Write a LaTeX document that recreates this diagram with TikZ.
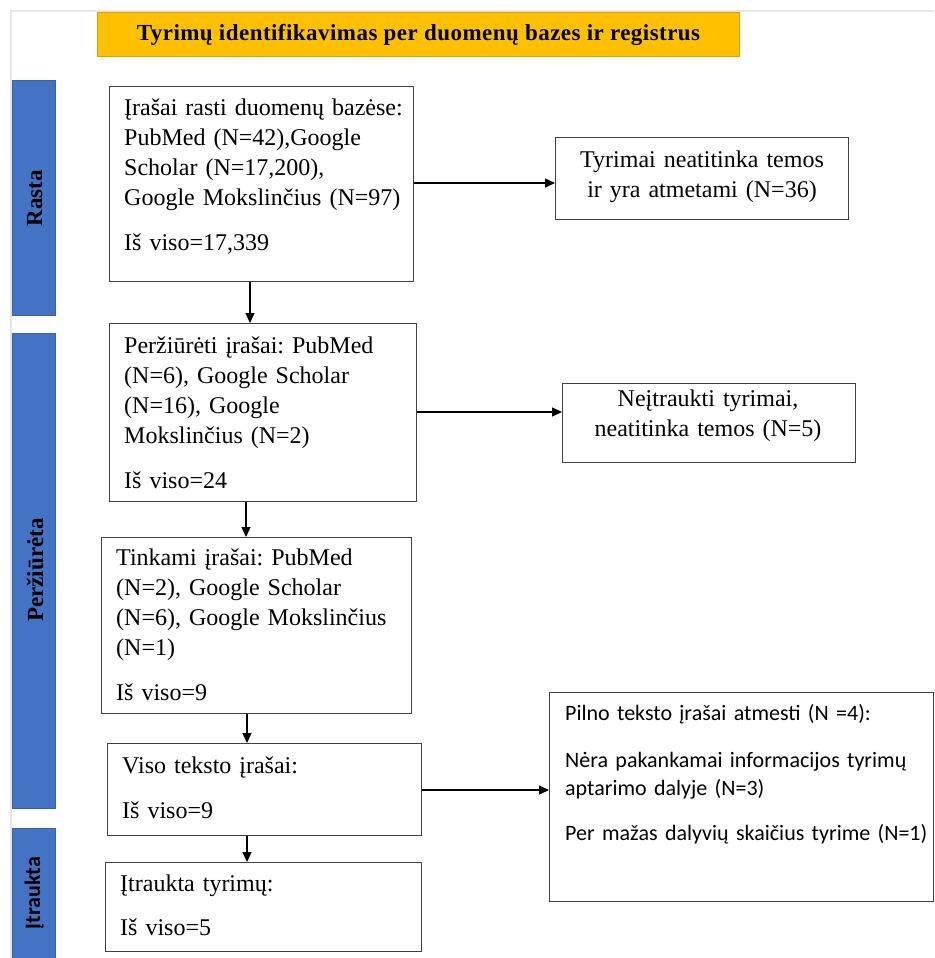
\documentclass[tikz,border=0pt]{standalone}
\usepackage{fontspec}
\setmainfont{Liberation Serif}
\newfontfamily\calibri{Carlito}
\usetikzlibrary{arrows.meta}
\definecolor{gold}{HTML}{FFC000}
\definecolor{goldline}{HTML}{D9A400}
\definecolor{barblue}{HTML}{4472C4}
\definecolor{barline}{HTML}{3A62AA}
\definecolor{boxline}{HTML}{404040}
\definecolor{framegray}{HTML}{E6E6E6}
\frenchspacing
\begin{document}
\frenchspacing
\begin{tikzpicture}[x=1pt,y=-1pt,
  box/.style={draw=boxline, line width=1.3pt, inner sep=0pt, anchor=north west},
  bar/.style={fill=barblue, draw=barline, line width=0.8pt, inner sep=0pt, anchor=north west, minimum width=43pt},
  vlabel/.style={rotate=90, anchor=base, inner sep=0pt, text=black},
  txt/.style={anchor=base west, inner sep=0pt, text width=330pt, align=left, font=\frenchspacing\fontsize{24}{30}\selectfont},
  txtc/.style={anchor=base, inner sep=0pt, text width=290pt, align=center, font=\frenchspacing\fontsize{24}{30}\selectfont},
  txtcal/.style={anchor=base west, inner sep=0pt, text width=365pt, align=left, font=\frenchspacing\calibri\fontsize{22}{28}\selectfont},
  arr/.style={line width=1.3pt, black, -{Triangle[length=10pt,width=9pt]}}
]
\path[use as bounding box] (0,0) rectangle (934,958);
\draw[framegray, line width=1.2pt] (11,958) -- (11,11) -- (934,11);

% title
\node[fill=gold, draw=goldline, line width=1pt, anchor=north west, minimum width=642pt, minimum height=44pt, inner sep=0pt,
      font=\bfseries\addfontfeatures{LetterSpace=2}\fontsize{23}{23}\selectfont] (title) at (97,12)
      {Tyrimų identifikavimas per duomenų bazes ir registrus};

% side bars
\node[bar, minimum height=235pt] (bar1) at (12,80) {};
\node[bar, minimum height=475pt] (bar2) at (12,333) {};
\node[bar, minimum height=140pt] (bar3) at (12,828) {};
\node[vlabel, font=\bfseries\fontsize{23}{23}\selectfont] (lab1) at (42,198) {Rasta};
\node[vlabel, font=\bfseries\fontsize{23}{23}\selectfont] (lab2) at (43,570) {Peržiūrėta};
\node[vlabel, font=\calibri\bfseries\fontsize{22}{22}\selectfont] (lab3) at (40,893) {Įtraukta};

% main boxes
\node[box, minimum width=304pt, minimum height=195pt] (n1) at (109,86) {};
\node[txt] (t1) at (124,115) {Įrašai rasti duomenų bazėse:\\PubMed (N=42),Google\\Scholar (N=17,200),\\Google Mokslinčius (N=97)\\[15pt]Iš viso=17,339};

\node[box, minimum width=307pt, minimum height=178pt] (n2) at (109,323) {};
\node[txt] (t2) at (124,353) {Peržiūrėti įrašai: PubMed\\(N=6), Google Scholar\\(N=16), Google\\Mokslinčius (N=2)\\[15pt]Iš viso=24};

\node[box, minimum width=310pt, minimum height=176pt] (n3) at (101,537) {};
\node[txt] (t3) at (116,565) {Tinkami įrašai: PubMed\\(N=2), Google Scholar\\(N=6), Google Mokslinčius\\(N=1)\\[15pt]Iš viso=9};

\node[box, minimum width=314pt, minimum height=92pt] (n4) at (107,743) {};
\node[txt] (t4) at (122,773) {Viso teksto įrašai:\\[15pt]Iš viso=9};

\node[box, minimum width=316pt, minimum height=89pt] (n5) at (105,862) {};
\node[txt] (t5) at (120,891) {Įtraukta tyrimų:\\[14pt]Iš viso=5};

% side boxes
\node[box, minimum width=293pt, minimum height=82pt] (nA) at (555,137) {};
\node[txtc] (tA) at (702,167) {Tyrimai neatitinka temos\\ir yra atmetami (N=36)};

\node[box, minimum width=293pt, minimum height=79pt] (nB) at (562,383) {};
\node[txtc] (tB) at (708,406) {Neįtraukti tyrimai,\\neatitinka temos (N=5)};

\node[box, minimum width=384pt, minimum height=209pt] (nC) at (549,692) {};
\node[txtcal] (tC) at (565,720) {Pilno teksto įrašai atmesti (N =4):\\[19pt]Nėra pakankamai informacijos tyrimų\\aptarimo dalyje (N=3)\\[17pt]Per mažas dalyvių skaičius tyrime (N=1)};

% connectors
\draw[arr] (250,0 |- n1.south) -- (250,0 |- n2.north);
\draw[arr] (246,0 |- n2.south) -- (246,0 |- n3.north);
\draw[arr] (247,0 |- n3.south) -- (247,0 |- n4.north);
\draw[arr] (247,0 |- n4.south) -- (247,0 |- n5.north);
\draw[arr] (n1.east |- 0,183) -- (nA.west |- 0,183);
\draw[arr] (n2.east |- 0,412) -- (nB.west |- 0,412);
\draw[arr] (n4.east |- 0,790) -- (nC.west |- 0,790);
\end{tikzpicture}
\end{document}
